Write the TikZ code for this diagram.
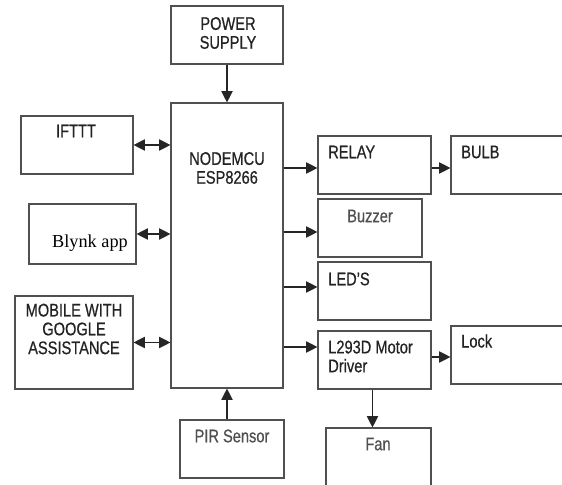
\documentclass[tikz,border=0pt]{standalone}
\usepackage{fontspec}
\setmainfont[FakeStretch=0.8, FakeBold=0.6]{Liberation Sans}
\newfontfamily\blynkfont{Liberation Serif}
\usepackage{tikz}
\usetikzlibrary{arrows.meta, positioning, fit, calc}
\definecolor{myline}{RGB}{80,80,80}
\definecolor{mytext}{RGB}{35,35,35}
\definecolor{mysoft}{RGB}{80,80,80}
\tikzset{
  box/.style={rectangle, draw=myline, line width=0.8pt, inner sep=0pt},
  lbl/.style={font=\fontsize{13}{13.4}\selectfont, text=mytext,
    inner sep=0pt, align=center},
  lbll/.style={lbl, align=left, anchor=west},
  softlbl/.style={lbl, text=mysoft},
  arrow/.style={-{Triangle[length=8pt,width=8pt]}, line width=0.8pt, color=black!85},
  darrow/.style={{Triangle[length=8pt,width=8pt]}-{Triangle[length=8pt,width=8pt]},
    line width=0.8pt, color=black!85}
}

\begin{document}
\begin{tikzpicture}[x=0.025cm, y=-0.025cm]
  \useasboundingbox (0,0) rectangle (562,485);

  % Blocks
  \node[box, fit={(171,6) (283,64)}] (power) {};
  \node[box, fit={(171,103) (283,388)}] (mcu) {};
  \node[box, fit={(21,116) (133,174)}] (ifttt) {};
  \node[box, fit={(29,204) (136,264)}] (blynk) {};
  \node[box, fit={(15,296) (133,389)}] (mobile) {};
  \node[box, fit={(180,420) (284,478)}] (pir) {};
  \node[box, fit={(318,136) (431,194)}] (relay) {};
  \node[box, fit={(451,136) (563,194)}] (bulb) {};
  \node[box, fit={(318,199) (422,257)}] (buzzer) {};
  \node[box, fit={(318,262) (431,320)}] (led) {};
  \node[box, fit={(318,331) (431,389)}] (drv) {};
  \node[box, fit={(451,326) (563,384)}] (lock) {};
  \node[box, fit={(326,428) (431,488)}] (fan) {};

  % Texts
  \node[lbl] (powertxt) at (228,33) {POWER\\SUPPLY};
  \node[lbl] (mcutxt) at (227,168) {NODEMCU\\ESP8266};
  \node[lbl] (iftttxt) at (76,131) {IFTTT};
  \node[lbl, font=\blynkfont\fontsize{13}{15}\selectfont, text=black, text depth=0pt] (blynktxt) at (90,241) {Blynk app};
  \node[lbl] (mobiletxt) at (74,329) {MOBILE WITH\\GOOGLE\\ASSISTANCE};
  \node[softlbl] (pirtxt) at (232,436) {PIR Sensor};
  \node[lbll] (relaytxt) at (328,152) {RELAY};
  \node[lbll] (bulbtxt) at (461,152) {BULB};
  \node[softlbl] (buzzertxt) at (370,216) {Buzzer};
  \node[lbll] (ledtxt) at (328,279) {LED'S};
  \node[lbll] (drvtxt) at (328,356.5) {L293D Motor\\Driver};
  \node[lbll] (locktxt) at (461,341) {Lock};
  \node[softlbl] (fantxt) at (378,444) {Fan};

  % Arrow ends
  \coordinate (relayin) at ($(relay.west)+(0,3)$);
  \coordinate (buzzerin) at ($(buzzer.west)+(0,4)$);
  \coordinate (ledin) at ($(led.west)+(0,-4)$);
  \coordinate (drvin) at ($(drv.west)+(0,-13)$);
  \coordinate (relayout) at ($(relay.east)+(0,3)$);
  \coordinate (drvout) at ($(drv.east)+(0,-3)$);
  \coordinate (fanout) at ($(drv.south)+(-2,0)$);

  % Connections
  \draw[arrow] (power) -- (mcu);
  \draw[arrow] (mcu.south |- pir.north) -- (mcu.south);
  \draw[darrow] (ifttt.east) -- (ifttt.east -| mcu.west);
  \draw[darrow] (blynk.east) -- (blynk.east -| mcu.west);
  \draw[darrow] (mobile.east) -- (mobile.east -| mcu.west);
  \draw[arrow] (relayin -| mcu.east) -- (relayin);
  \draw[arrow] (buzzerin -| mcu.east) -- (buzzerin);
  \draw[arrow] (ledin -| mcu.east) -- (ledin);
  \draw[arrow] (drvin -| mcu.east) -- (drvin);
  \draw[arrow] (relayout) -- (relayout -| bulb.west);
  \draw[arrow] (drvout) -- (drvout -| lock.west);
  \draw[arrow] (fanout) -- (fanout |- fan.north);
\end{tikzpicture}
\end{document}
